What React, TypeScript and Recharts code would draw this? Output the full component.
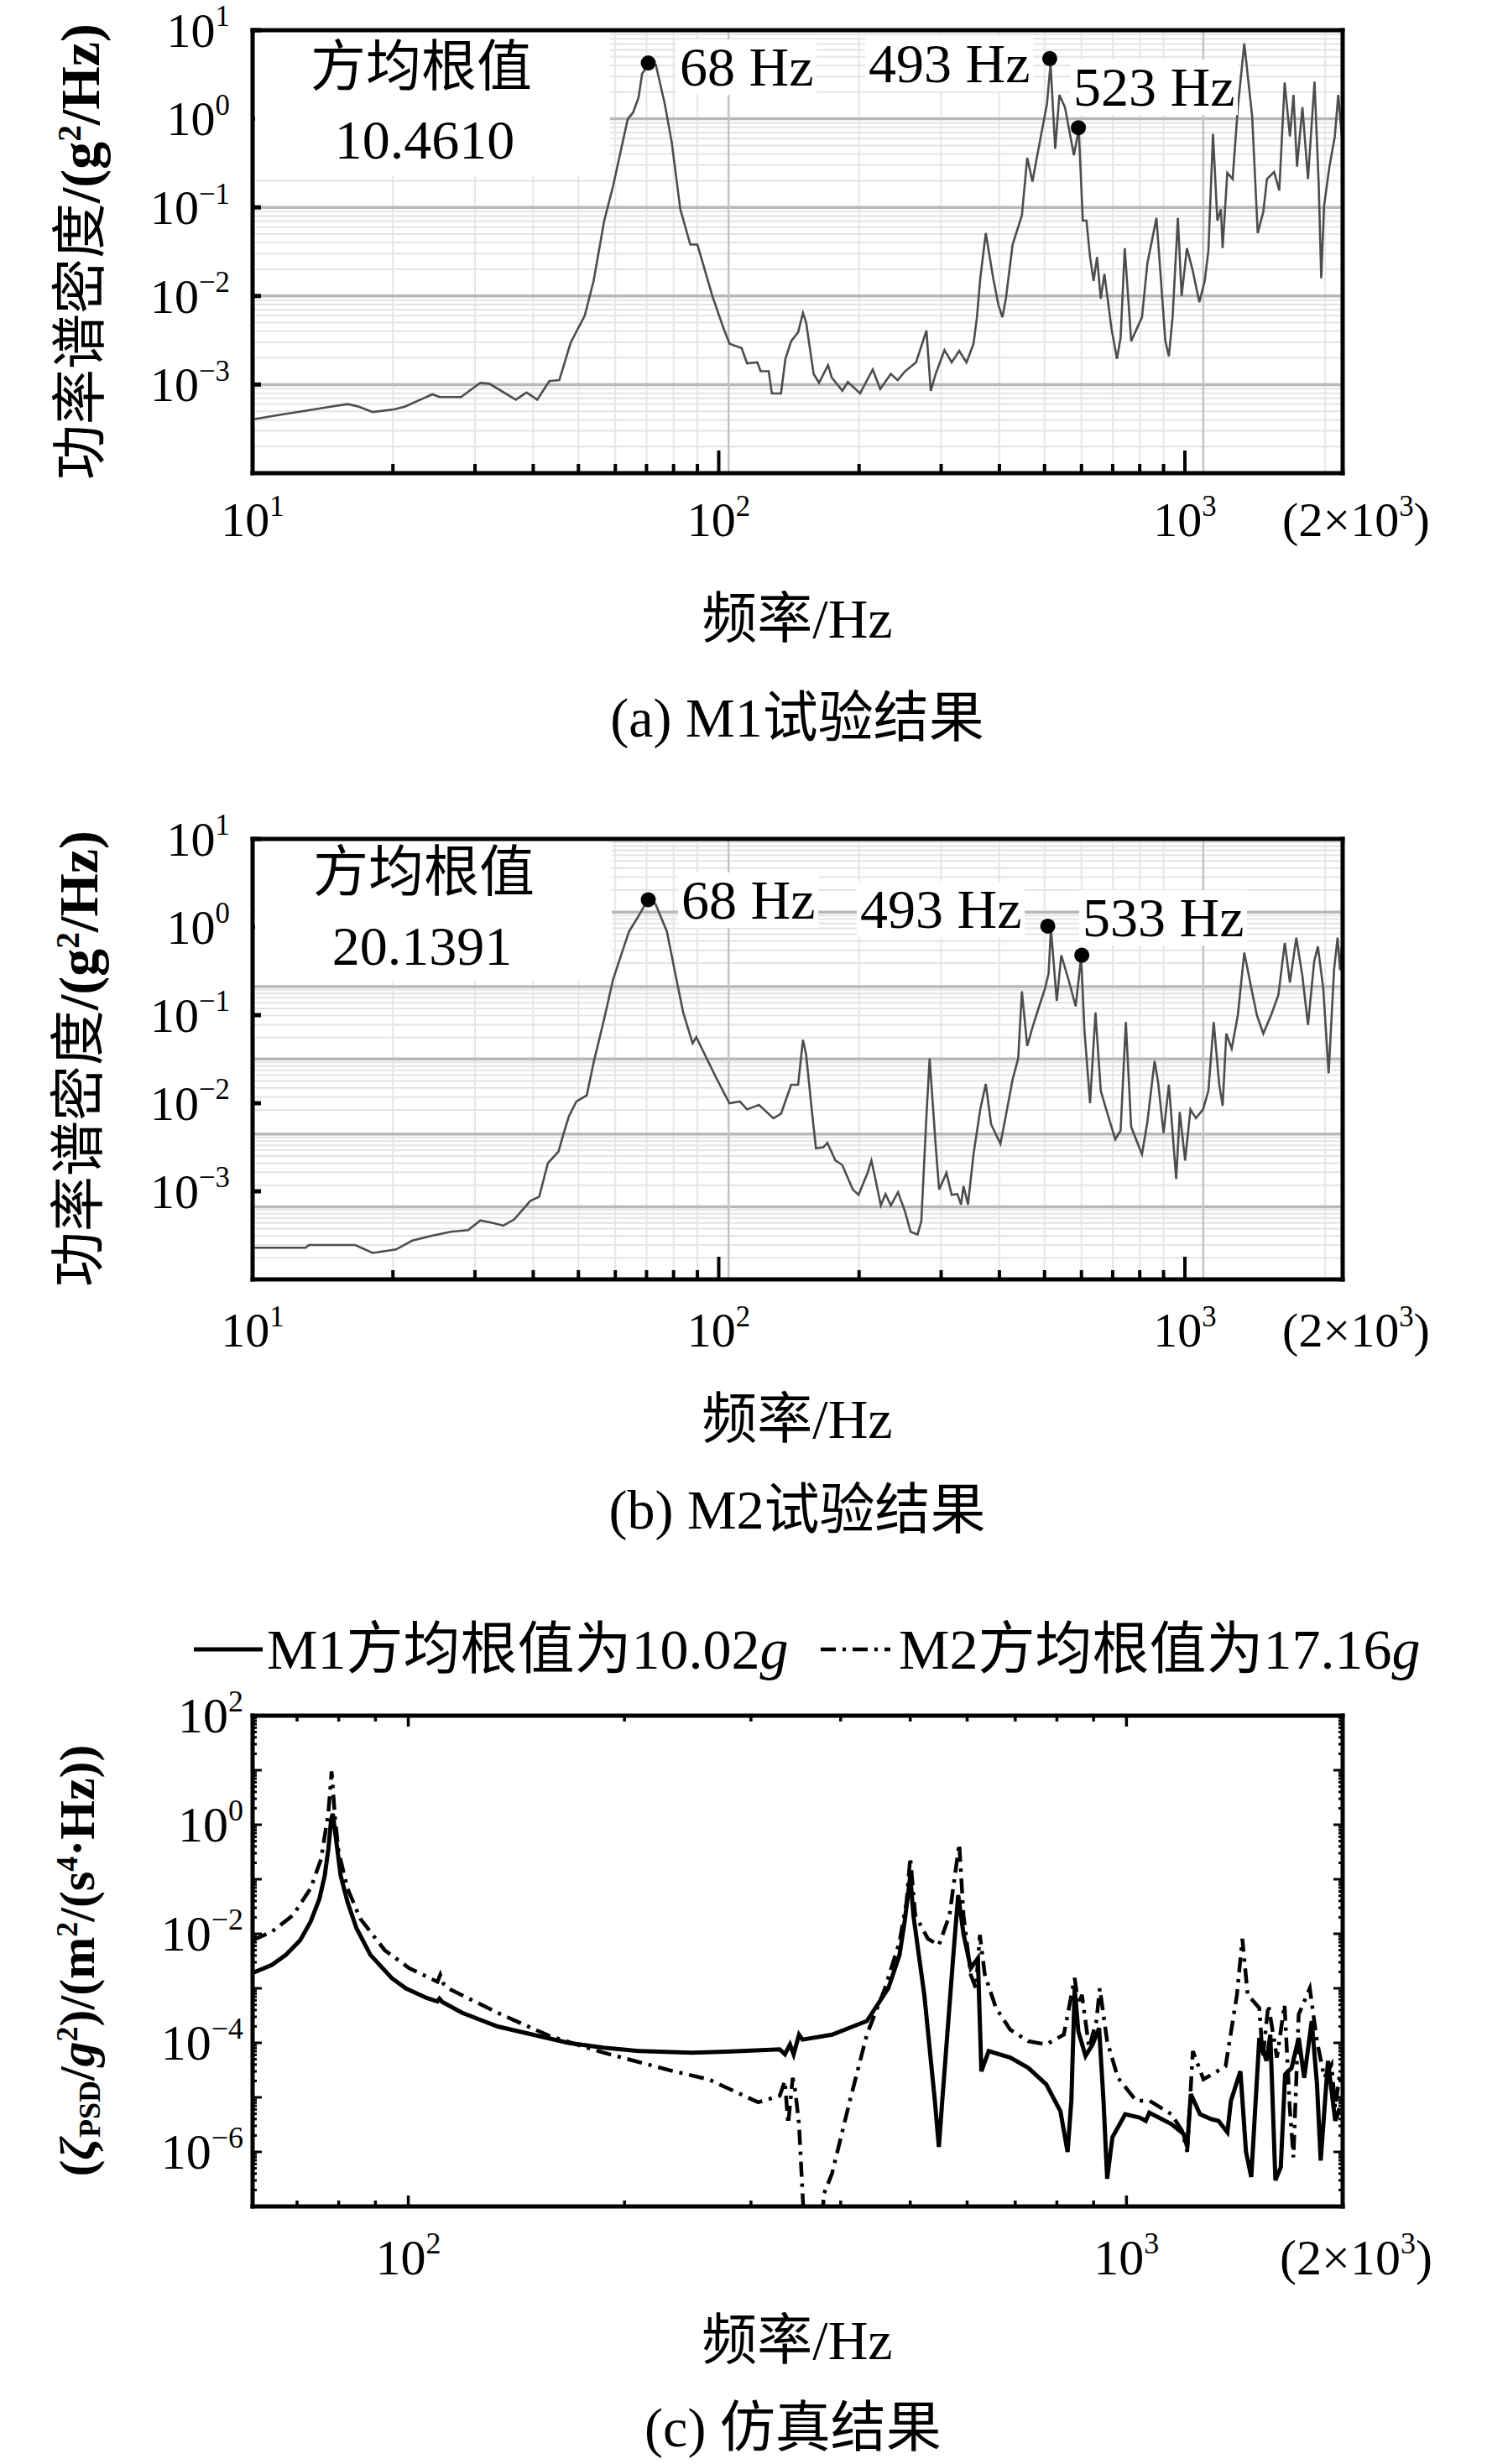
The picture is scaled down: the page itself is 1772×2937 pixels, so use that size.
import React from 'react';
import { LineChart, Line, XAxis, YAxis, ReferenceLine, ReferenceDot } from 'recharts';

const SERIF = '"Liberation Serif", "Times New Roman", serif';
const MIXED = '"Liberation Serif", "Noto Sans CJK SC", serif';

// ---------- (a) M1 test result: [frequency Hz, log10 PSD (g^2/Hz)] ----------
const m1TestPts: [number, number][] = [
  [10.1, -3.39], [11.5, -3.34], [13.2, -3.29], [14.9, -3.245], [16.0, -3.22], [16.9, -3.25], [18.1, -3.31],
  [20.1, -3.28], [21.2, -3.25], [24.3, -3.11], [25.2, -3.14], [28.0, -3.14], [30.8, -2.98], [32.2, -2.99],
  [36.7, -3.17], [38.7, -3.09], [40.8, -3.17], [43.3, -2.96], [45.5, -2.95], [48.1, -2.53], [51.6, -2.22],
  [53.9, -1.83], [56.8, -1.15], [59.4, -0.75], [63.8, 0.0], [65.5, 0.07], [67.3, 0.24], [68.5, 0.51],
  [70.6, 0.61], [73.3, 0.61], [76.6, 0.17], [79.3, -0.27], [82.7, -1.02], [86.9, -1.42], [90.0, -1.42],
  [96.9, -2.0], [102, -2.34], [105.5, -2.54], [112, -2.59], [115, -2.76], [121, -2.75], [123, -2.85],
  [128, -2.85], [130, -3.1], [136, -3.1], [139, -2.71], [143, -2.51], [148, -2.41], [151.6, -2.19],
  [154, -2.3], [159.8, -2.88], [164.1, -2.98], [171.6, -2.78], [174.7, -2.92], [184.2, -3.07], [189.2, -2.97],
  [201, -3.1], [214, -2.83], [222, -3.05], [234, -2.88], [242, -2.95], [251, -2.85], [265, -2.75],
  [279, -2.39], [285, -3.07], [292, -2.88], [305, -2.61], [316, -2.75], [328, -2.62], [340, -2.75],
  [352, -2.54], [358, -2.24], [364, -1.8], [374, -1.29], [388, -1.8], [398, -2.1], [406, -2.24],
  [413, -2.03], [427, -1.42], [447, -1.09], [459, -0.44], [471, -0.71], [480, -0.47], [506, 0.17],
  [515, 0.62], [527, -0.34], [538, 0.27], [553, 0.13], [578, -0.41], [592, -0.12], [604, -1.15],
  [615, -1.15], [626, -1.56], [637, -1.83], [648, -1.56], [660, -2.03], [672, -1.75], [696, -2.37],
  [715, -2.71], [728, -2.47], [743, -1.46], [767, -2.51], [809, -2.24], [831, -1.63], [869, -1.12],
  [908, -2.51], [924, -2.68], [941, -2.24], [966, -1.12], [984, -2.0], [1010, -1.46], [1038, -1.7],
  [1074, -2.07], [1103, -1.83], [1123, -1.49], [1149, -0.17], [1174, -1.15], [1195, -1.02], [1205, -1.46],
  [1233, -0.61], [1266, -0.68], [1299, 0.13], [1341, 0.85], [1394, 0.03], [1433, -1.29], [1473, -1.05],
  [1500, -0.68], [1554, -0.6], [1594, -0.81], [1637, 0.41], [1680, -0.2], [1710, 0.27], [1740, -0.54],
  [1787, 0.13], [1837, -0.68], [1897, 0.42], [1937, -0.75], [1961, -1.8], [1989, -0.98], [2042, -0.54],
  [2097, -0.2], [2133, 0.27], [2171, -0.2],
];
const m1TestPeakFreq = [70.6, 513, 591];
const m1TestPeakLog = [0.63, 0.68, -0.1];

// ---------- (b) M2 test result ----------
const m2TestPts: [number, number][] = [
  [10.1, -3.64], [13.0, -3.64], [13.2, -3.61], [16.6, -3.61], [18.1, -3.7], [20.3, -3.66], [22.0, -3.56],
  [24.0, -3.51], [26.6, -3.46], [29.0, -3.44], [30.8, -3.33], [32.8, -3.36], [34.5, -3.39], [36.4, -3.32],
  [39.4, -3.11], [41.2, -3.06], [43.0, -2.68], [45.3, -2.55], [46.5, -2.34], [47.7, -2.15], [49.5, -1.98],
  [52.1, -1.91], [54.0, -1.52], [56.8, -1.04], [59.3, -0.6], [62.0, -0.29], [64.2, -0.05], [67.2, 0.12],
  [69.6, 0.26], [70.6, 0.3], [73.2, 0.26], [77.4, -0.05], [80.9, -0.56], [83.9, -0.97], [87.9, -1.32],
  [89.5, -1.25], [98.3, -1.69], [105.4, -2.0], [111, -1.98], [115, -2.07], [122, -2.02], [131, -2.17],
  [136, -2.12], [143, -1.79], [148, -1.79], [151.6, -1.28], [154, -1.45], [158.5, -2.1], [161.6, -2.51],
  [167.7, -2.5], [171, -2.45], [178, -2.65], [184, -2.7], [194, -2.98], [199.5, -3.04], [208.6, -2.79],
  [212.6, -2.65], [216, -2.82], [222.7, -3.16], [227.9, -3.03], [234, -3.16], [242.4, -3.01], [251, -3.23],
  [258, -3.46], [267, -3.49], [272, -3.34], [279, -2.14], [283.4, -1.49], [288.4, -2.07], [292, -2.48],
  [297, -2.98], [308, -2.79], [316, -3.04], [325, -3.03], [331, -3.15], [335, -2.94], [342.5, -3.15],
  [352, -2.58], [364, -2.07], [374, -1.78], [384, -2.24], [402, -2.46], [413, -2.14], [427, -1.73],
  [439, -1.49], [447, -0.73], [459, -1.35], [471, -1.14], [480, -1.0], [501, -0.7], [510, -0.53],
  [516, -0.02], [531, -0.84], [543, -0.32], [563, -0.6], [583, -0.9], [599, -0.34], [609, -1.18],
  [626, -2.0], [643, -0.97], [660, -1.86], [678, -2.07], [709, -2.41], [728, -2.31], [747, -1.08],
  [767, -2.27], [809, -2.58], [831, -2.21], [861, -1.52], [876, -1.76], [900, -2.34], [924, -1.79],
  [958, -2.86], [975, -2.1], [1001, -2.65], [1028, -2.07], [1056, -2.17], [1094, -2.07], [1123, -1.86],
  [1153, -1.08], [1185, -1.79], [1205, -2.03], [1227, -1.21], [1260, -1.38], [1299, -1.0], [1341, -0.29],
  [1389, -0.7], [1427, -1.0], [1473, -1.21], [1531, -1.0], [1587, -0.77], [1638, -0.18], [1680, -0.63],
  [1734, -0.12], [1787, -0.56], [1837, -1.11], [1894, -0.39], [1929, -0.22], [1981, -0.7], [2034, -1.66],
  [2089, -0.49], [2126, -0.12], [2153, -0.49], [2171, -0.22],
];
const m2TestPeakFreq = [70.6, 508, 601];
const m2TestPeakLog = [0.31, 0.01, -0.32];

// ---------- (c) simulation: frequency and log10 PSD ----------
const simM1Freq = [60.7, 64.6, 67.5, 70.7, 73.1, 75.2, 76.5, 77.4, 78.1, 78.5, 79.1, 80.5, 82.3, 84.7, 88.6, 94.8, 99.2, 106.2, 109.8, 110.5, 111.5, 118.9, 133.2, 149.1, 166.9, 186.9, 209.3, 248, 277.5, 329, 334.5, 340, 344, 350, 354, 389, 435, 466, 483, 491, 497, 500, 505, 523, 541, 548, 554, 574, 583, 593, 607, 621, 628, 643, 689, 730, 773, 809, 828, 838, 847, 857, 877, 897, 916, 929, 940, 956, 996, 1043, 1064, 1076, 1155, 1201, 1215, 1229, 1266, 1313, 1343, 1382, 1398, 1441, 1467, 1492, 1531, 1567, 1586, 1612, 1640, 1663, 1698, 1737, 1768, 1811, 1842, 1864, 1908, 1930, 1953, 1980];
const simM1Log = [-2.72, -2.57, -2.39, -2.12, -1.78, -1.36, -0.93, -0.44, 0.1, 0.2, -0.14, -0.93, -1.42, -1.9, -2.39, -2.81, -3.0, -3.18, -3.24, -3.19, -3.25, -3.45, -3.7, -3.85, -4.0, -4.09, -4.15, -4.18, -4.16, -4.12, -4.21, -4.03, -4.21, -3.85, -3.94, -3.85, -3.6, -3.0, -2.39, -1.78, -1.23, -0.93, -1.66, -3.12, -5.06, -5.91, -5.06, -2.39, -1.29, -2.0, -2.63, -2.45, -4.52, -4.15, -4.27, -4.46, -4.76, -5.25, -6.0, -5.06, -3.0, -3.79, -4.24, -4.03, -3.73, -5.06, -6.49, -5.73, -5.31, -5.37, -5.43, -5.28, -5.49, -5.67, -5.91, -4.94, -5.31, -5.4, -5.43, -5.64, -5.06, -4.52, -6.0, -6.46, -3.91, -4.33, -3.85, -6.52, -6.28, -4.58, -4.46, -3.91, -4.64, -3.6, -4.76, -6.16, -4.33, -4.88, -5.43, -5.2];
const simM2Freq = [60.7, 64.6, 69.1, 73.1, 75.6, 77.4, 78.2, 79.1, 80.0, 82.3, 85.7, 92.7, 100.3, 109.8, 110.8, 112, 113.6, 133.2, 157.7, 186.9, 234, 262, 307, 329, 334.5, 338, 343, 346, 350, 354, 358, 374, 379, 389, 412, 435, 461, 483, 494, 500, 508, 529, 548, 567, 585, 593, 607, 617, 625, 635, 658, 689, 730, 773, 818, 847, 857, 867, 887, 908, 918, 940, 973, 1031, 1076, 1155, 1195, 1215, 1237, 1280, 1374, 1425, 1450, 1475, 1531, 1548, 1576, 1620, 1660, 1688, 1708, 1737, 1800, 1842, 1886, 1930, 1953, 1980];
const simM2Log = [-2.12, -1.96, -1.66, -1.17, -0.63, 0.22, 0.98, 0.1, -0.5, -1.17, -1.72, -2.3, -2.63, -2.88, -2.75, -2.92, -3.0, -3.45, -3.88, -4.18, -4.52, -4.67, -5.09, -4.97, -4.7, -5.49, -4.64, -4.9, -5.5, -6.77, -8, -8, -6.77, -6.4, -5.06, -3.85, -3.0, -2.15, -1.42, -0.6, -1.66, -2.09, -2.21, -1.66, -0.35, -1.66, -2.75, -3.0, -2.02, -2.75, -3.36, -3.76, -3.97, -4.03, -3.85, -2.81, -3.3, -3.12, -4.09, -3.6, -3.0, -3.97, -4.64, -5.06, -5.06, -5.31, -5.61, -6.0, -4.15, -4.67, -4.43, -3.12, -2.09, -3.12, -3.36, -4.27, -3.3, -4.27, -3.3, -5.19, -6.1, -3.48, -3.0, -3.97, -4.64, -4.4, -5.19, -4.6];

// ---------- axes ----------
const testXDomain: [number, number] = [10, 2180];
const testYDomain: [number, number] = [1e-4, 10];
const testXTicks = [10, 20, 30, 40, 50, 60, 70, 80, 90, 100, 200, 300, 400, 500, 600, 700, 800, 900, 1000, 2180];
const testXLabelExps = [1, 2, 3];
const testYTicks = [10, 1, 0.1, 0.01, 0.001];
const testYLabelExps = [1, 0, -1, -2, -3];
const testVGridMinor = [20, 30, 40, 50, 60, 70, 80, 90, 200, 300, 400, 500, 600, 700, 800, 900, 2000];
const testVGridMajor = [105, 1095];
// background grid of the measured plots, as log10 values (panel b's grid is offset in the original)
const aGridMajorLog = [0, -1, -2, -3];
const aGridMinorBaseLog = [1, 0, -1, -2, -3];
const aGridStep = 1;
const bGridMajorLog = [0.17, -0.675, -1.497, -2.35, -3.175];
const bGridMinorBaseLog = [1.0, 0.17, -0.675, -1.497, -2.35, -3.175];
const bGridStep = 0.83;

const simXDomain: [number, number] = [60.7, 2000];
const simYDomain: [number, number] = [1e-7, 100];
const simXTicks = [70, 80, 90, 100, 200, 300, 400, 500, 600, 700, 800, 900, 1000, 2000];
const simXLabelExps = [2, 3];
const simYLabelExps = [2, 0, -2, -4, -6];
const simYTicks: number[] = [];
for (let n = -7; n <= 1; n++) for (let k = 1; k <= 9; k++) simYTicks.push(k * Math.pow(10, n));
simYTicks.push(100);

const EDGE_MANT = '(2×10';
const EDGE_EXP = '3';

const AX = { stroke: '#000', strokeWidth: 5, strokeLinecap: 'square' as const };

const isDecade = (v: number) => Math.abs(Math.log10(v) - Math.round(Math.log10(v))) < 1e-6;

type TickOpts = {
  side: 'bottom' | 'top' | 'left' | 'right';
  majorLen: number;
  minorLen: number;
  sw: number;
  fs?: number;
  offset?: number;
  labelExps?: number[];
  edgeValue?: number;
};

function makeTick(o: TickOpts) {
  return (props: any) => {
    const { x, y, payload } = props;
    const v: number = payload.value;
    const edge = o.edgeValue !== undefined && Math.abs(v - o.edgeValue) / o.edgeValue < 1e-9;
    const dec = isDecade(v);
    const len = edge ? 0 : dec ? o.majorLen : o.minorLen;
    let x2 = x;
    let y2 = y;
    if (o.side === 'bottom') y2 = y - len;
    else if (o.side === 'top') y2 = y + len;
    else if (o.side === 'left') x2 = x + len;
    else x2 = x - len;
    const fs = o.fs || 0;
    const exp = Math.round(Math.log10(v));
    const showLabel = fs > 0 && dec && !!o.labelExps && o.labelExps.includes(exp);
    const expText = exp < 0 ? '\u2212' + Math.abs(exp) : String(exp);
    const supFs = fs * 0.6;
    const supDy = -fs * 0.42;
    return (
      <g>
        {len > 0 && <line x1={x} y1={y} x2={x2} y2={y2} stroke="#000" strokeWidth={o.sw} />}
        {showLabel && o.side === 'bottom' && (
          <text x={x} y={y + (o.offset || 0)} textAnchor="middle" fontFamily={SERIF} fontSize={fs} fill="#000">
            10<tspan dy={supDy} fontSize={supFs}>{expText}</tspan>
          </text>
        )}
        {showLabel && o.side === 'left' && (
          <text x={x - (o.offset || 0)} y={y + fs * 0.34} textAnchor="end" fontFamily={SERIF} fontSize={fs} fill="#000">
            10<tspan dy={supDy} fontSize={supFs}>{expText}</tspan>
          </text>
        )}
        {edge && fs > 0 && o.side === 'bottom' && (
          <text x={x + 16} y={y + (o.offset || 0)} textAnchor="middle" fontFamily={SERIF} fontSize={fs} fill="#000">
            {EDGE_MANT}<tspan dy={supDy} fontSize={supFs}>{EDGE_EXP}</tspan><tspan dy={-supDy}>)</tspan>
          </text>
        )}
      </g>
    );
  };
}

function buildGrid(majorLog: number[], minorBaseLog: number[], step: number) {
  const lo = -4 + 1e-4;
  const hi = 1 - 1e-4;
  const major = majorLog.filter((e) => e > lo && e < hi).map((e) => Math.pow(10, e));
  const minor: number[] = [];
  minorBaseLog.forEach((b) => {
    for (let k = 2; k <= 9; k++) {
      const e = b + Math.log10(k / 10) * step;
      if (e > lo && e < hi) minor.push(Math.pow(10, e));
    }
  });
  return { major, minor };
}

function TestPanel(props: {
  top: number;
  plotBottom: number;
  pts: [number, number][];
  peakF: number[];
  peakLog: number[];
  grid: { major: number[]; minor: number[] };
  labelOffset: number;
}) {
  const { top, plotBottom, pts, peakF, peakLog, grid, labelOffset } = props;
  const H = 700;
  const rows = pts.map(([f, e]) => ({ f, v: Math.pow(10, e) }));
  return (
    <div style={{ position: 'absolute', left: 0, top }}>
      <LineChart width={1772} height={H} margin={{ top: 35, right: 171, bottom: H - plotBottom - 1, left: 300 }}>
        <XAxis
          xAxisId="b" dataKey="f" type="number" scale="log" domain={testXDomain} allowDataOverflow
          ticks={testXTicks} interval={0} tickLine={false} tickSize={0} tickMargin={0} height={1} axisLine={AX}
          tick={makeTick({ side: 'bottom', majorLen: 27, minorLen: 11, sw: 4, fs: 58, offset: labelOffset, labelExps: testXLabelExps, edgeValue: testXDomain[1] })}
        />
        <XAxis xAxisId="t" orientation="top" dataKey="f" type="number" scale="log" domain={testXDomain} allowDataOverflow tick={false} tickLine={false} height={1} axisLine={AX} />
        <YAxis
          yAxisId="l" type="number" scale="log" domain={testYDomain} allowDataOverflow
          ticks={testYTicks} interval={0} tickLine={false} tickSize={0} tickMargin={0} width={1} axisLine={AX}
          tick={makeTick({ side: 'left', majorLen: 10, minorLen: 0, sw: 5, fs: 58, offset: 27, labelExps: testYLabelExps })}
        />
        <YAxis yAxisId="r" orientation="right" type="number" scale="log" domain={testYDomain} allowDataOverflow tick={false} tickLine={false} width={1} axisLine={AX} />
        {grid.minor.map((v, i) => (
          <ReferenceLine key={'hm' + i} y={v} xAxisId="b" yAxisId="l" stroke="#e4e4e4" strokeWidth={2} />
        ))}
        {testVGridMinor.map((v, i) => (
          <ReferenceLine key={'vm' + i} x={v} xAxisId="b" yAxisId="l" stroke="#e6e6e6" strokeWidth={2} />
        ))}
        {grid.major.map((v, i) => (
          <ReferenceLine key={'hM' + i} y={v} xAxisId="b" yAxisId="l" stroke="#b8b8b8" strokeWidth={3.5} />
        ))}
        {testVGridMajor.map((v, i) => (
          <ReferenceLine key={'vM' + i} x={v} xAxisId="b" yAxisId="l" stroke="#c4c4c4" strokeWidth={2.5} />
        ))}
        <Line xAxisId="b" yAxisId="l" data={rows} dataKey="v" type="linear" stroke="#4d4d4d" strokeWidth={2.6} dot={false} isAnimationActive={false} />
        {peakF.map((f, i) => (
          <ReferenceDot key={'pk' + i} x={f} y={Math.pow(10, peakLog[i])} xAxisId="b" yAxisId="l" r={9} fill="#000" stroke="none" />
        ))}
      </LineChart>
    </div>
  );
}

function SimPanel({ top }: { top: number }) {
  const H = 760;
  const plotBottom = 621;
  const m1 = simM1Freq.map((f, i) => ({ f, v: Math.pow(10, simM1Log[i]) }));
  const m2 = simM2Freq.map((f, i) => ({ f, v: Math.pow(10, simM2Log[i]) }));
  return (
    <div style={{ position: 'absolute', left: 0, top }}>
      <LineChart width={1772} height={H} margin={{ top: 35, right: 171, bottom: H - plotBottom - 1, left: 300 }}>
        <XAxis
          xAxisId="b" dataKey="f" type="number" scale="log" domain={simXDomain} allowDataOverflow
          ticks={simXTicks} interval={0} tickLine={false} tickSize={0} tickMargin={0} height={1} axisLine={AX}
          tick={makeTick({ side: 'bottom', majorLen: 13, minorLen: 7, sw: 3.5, fs: 60, offset: 81, labelExps: simXLabelExps, edgeValue: simXDomain[1] })}
        />
        <XAxis
          xAxisId="t" orientation="top" dataKey="f" type="number" scale="log" domain={simXDomain} allowDataOverflow
          ticks={simXTicks} interval={0} tickLine={false} tickSize={0} tickMargin={0} height={1} axisLine={AX}
          tick={makeTick({ side: 'top', majorLen: 13, minorLen: 7, sw: 3.5, edgeValue: simXDomain[1] })}
        />
        <YAxis
          yAxisId="l" type="number" scale="log" domain={simYDomain} allowDataOverflow
          ticks={simYTicks} interval={0} tickLine={false} tickSize={0} tickMargin={0} width={1} axisLine={AX}
          tick={makeTick({ side: 'left', majorLen: 11, minorLen: 5, sw: 3, fs: 60, offset: 11, labelExps: simYLabelExps })}
        />
        <YAxis
          yAxisId="r" orientation="right" type="number" scale="log" domain={simYDomain} allowDataOverflow
          ticks={simYTicks} interval={0} tickLine={false} tickSize={0} tickMargin={0} width={1} axisLine={AX}
          tick={makeTick({ side: 'right', majorLen: 11, minorLen: 5, sw: 3 })}
        />
        <Line xAxisId="b" yAxisId="l" data={m1} dataKey="v" type="linear" stroke="#000" strokeWidth={5} dot={false} isAnimationActive={false} />
        <Line xAxisId="b" yAxisId="l" data={m2} dataKey="v" type="linear" stroke="#000" strokeWidth={4.5} strokeDasharray="18 8 4 8" dot={false} isAnimationActive={false} />
      </LineChart>
    </div>
  );
}

const Sup = ({ children }: { children: React.ReactNode }) => (
  <span style={{ fontSize: '0.6em', verticalAlign: '0.55em', lineHeight: 0 }}>{children}</span>
);
const Sub = ({ children }: { children: React.ReactNode }) => (
  <span style={{ fontSize: '0.6em', verticalAlign: '-0.2em', lineHeight: 0 }}>{children}</span>
);

function Txt(props: {
  x: number; y: number; fs?: number; anchor?: 'start' | 'middle'; bg?: string; rotate?: boolean;
  bold?: boolean; pad?: string; children: React.ReactNode;
}) {
  const { x, y, fs = 66, anchor = 'middle', bg, rotate, bold, pad, children } = props;
  const tx = anchor === 'start' ? '0' : '-50%';
  return (
    <div
      style={{
        position: 'absolute', left: x, top: y,
        transform: `translate(${tx}, -50%)${rotate ? ' rotate(-90deg)' : ''}`,
        fontFamily: MIXED, fontSize: fs, lineHeight: 1, whiteSpace: 'nowrap', color: '#000',
        background: bg, padding: pad, fontWeight: bold ? 'bold' : 'normal',
      }}
    >
      {children}
    </div>
  );
}

const PSD_TITLE = (
  <>
    功率谱密度<span style={{ fontWeight: 'bold' }}>/(g<Sup>2</Sup>/Hz)</span>
  </>
);

const aGrid = buildGrid(aGridMajorLog, aGridMinorBaseLog, aGridStep);
const bGrid = buildGrid(bGridMajorLog, bGridMinorBaseLog, bGridStep);

export default function App() {
  return (
    <div style={{ position: 'absolute', left: 0, top: 0, width: 1772, height: 2937, background: '#fff', overflow: 'hidden' }}>
      {/* (a) */}
      <TestPanel top={0} plotBottom={564} pts={m1TestPts} peakF={m1TestPeakFreq} peakLog={m1TestPeakLog} grid={aGrid} labelOffset={75} />
      <div style={{ position: 'absolute', left: 304, top: 39, width: 423, height: 170, background: '#fff' }} />
      <Txt x={502} y={80}>方均根值</Txt>
      <Txt x={506} y={167}>10.4610</Txt>
      <Txt x={806} y={80} anchor="start" bg="#fff" pad="0 4px">68 Hz</Txt>
      <Txt x={1031} y={76} anchor="start" bg="#fff" pad="0 4px">493 Hz</Txt>
      <Txt x={1275} y={104} anchor="start" bg="#fff" pad="0 4px">523 Hz</Txt>
      <Txt x={96} y={300} rotate>{PSD_TITLE}</Txt>
      <Txt x={950} y={738}>频率/Hz</Txt>
      <Txt x={950} y={856}>(a) M1试验结果</Txt>

      {/* (b) */}
      <TestPanel top={964} plotBottom={561} pts={m2TestPts} peakF={m2TestPeakFreq} peakLog={m2TestPeakLog} grid={bGrid} labelOffset={80} />
      <div style={{ position: 'absolute', left: 304, top: 1003, width: 425, height: 166, background: '#fff' }} />
      <Txt x={505} y={1040}>方均根值</Txt>
      <Txt x={503} y={1128}>20.1391</Txt>
      <Txt x={808} y={1073} anchor="start" bg="#fff" pad="0 4px">68 Hz</Txt>
      <Txt x={1021} y={1084} anchor="start" bg="#fff" pad="0 4px">493 Hz</Txt>
      <Txt x={1286} y={1094} anchor="start" bg="#fff" pad="0 4px">533 Hz</Txt>
      <Txt x={94} y={1262} rotate>{PSD_TITLE}</Txt>
      <Txt x={950} y={1692}>频率/Hz</Txt>
      <Txt x={950} y={1800}>(b) M2试验结果</Txt>

      {/* (c) */}
      <svg width={1772} height={40} style={{ position: 'absolute', left: 0, top: 1946 }}>
        <line x1={231} y1={20} x2={313} y2={20} stroke="#000" strokeWidth={5} />
        <line x1={978} y1={20} x2={1061} y2={20} stroke="#000" strokeWidth={4.5} strokeDasharray="18 8 4 8" />
      </svg>
      <Txt x={318} y={1966} anchor="start" fs={68}>M1方均根值为10.02<i>g</i></Txt>
      <Txt x={1071} y={1966} anchor="start" fs={68}>M2方均根值为17.16<i>g</i></Txt>
      <SimPanel top={2009} />
      <Txt x={92} y={2337} rotate bold fs={60}>
        (<i>ζ</i><Sub>PSD</Sub>/<i>g</i><Sup>2</Sup>)/(m<Sup>2</Sup>/(s<Sup>4</Sup>·Hz))
      </Txt>
      <Txt x={950} y={2790}>频率/Hz</Txt>
      <Txt x={945} y={2894}>(c) 仿真结果</Txt>
    </div>
  );
}
